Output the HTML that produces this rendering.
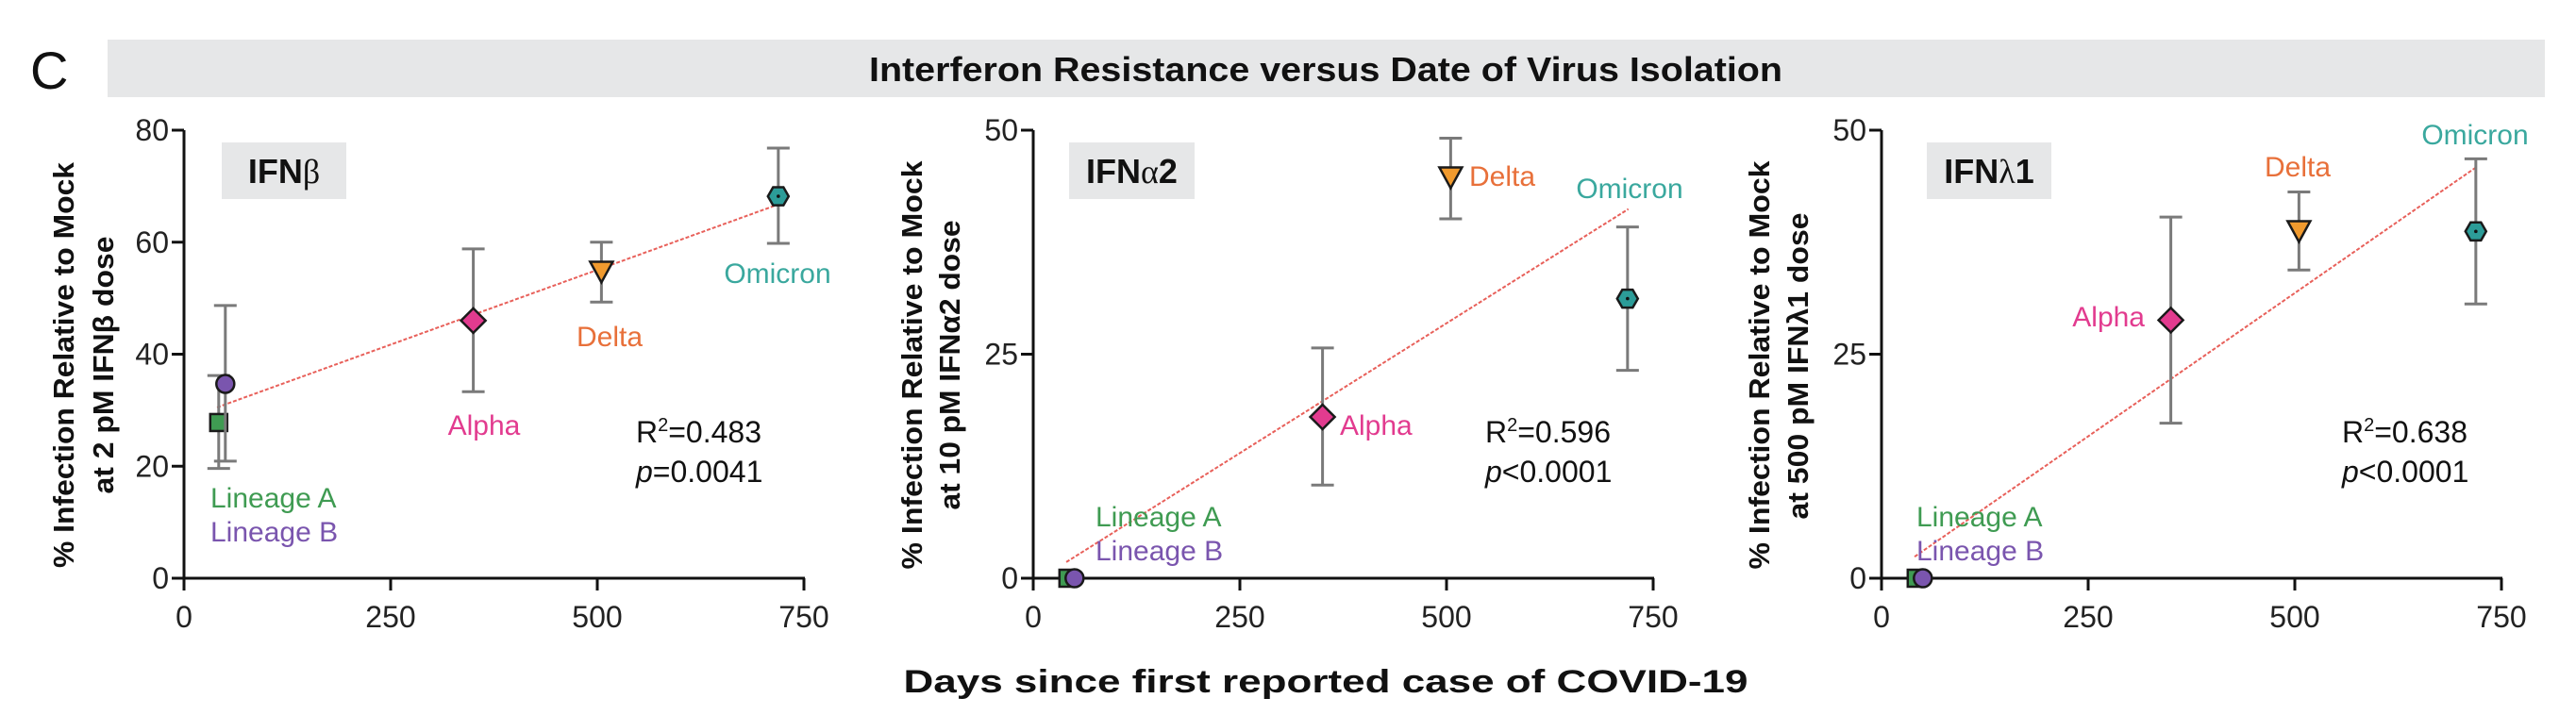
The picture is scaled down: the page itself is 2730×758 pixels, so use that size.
<!DOCTYPE html>
<html><head><meta charset="utf-8">
<style>
html,body{margin:0;padding:0;background:#fff;}
svg{display:block;font-family:"Liberation Sans",Arial,sans-serif;}
</style></head>
<body>
<svg id="fig" width="2730" height="758" viewBox="0 0 2730 758" xmlns="http://www.w3.org/2000/svg">
  <text x="32" y="94" font-size="56" fill="#111">C</text>
  <rect x="114" y="42" width="2583" height="61" fill="#e6e7e8"/>
  <text x="1405" y="86" font-size="36" font-weight="bold" text-anchor="middle" textLength="968" lengthAdjust="spacingAndGlyphs" fill="#111">Interferon Resistance versus Date of Virus Isolation</text>
  <text x="1405" y="734" font-size="34" font-weight="bold" text-anchor="middle" textLength="895" lengthAdjust="spacingAndGlyphs" fill="#111">Days since first reported case of COVID-19</text>
  <g id="panels"></g>
</svg>
<script>
// shared data
const variants = ["Lineage A","Lineage B","Alpha","Delta","Omicron"];
const days = [42, 50, 350, 505, 719];
const xTicks = [0, 250, 500, 750];

// IFN-beta panel
const betaMean = [27.8, 34.7, 46.0, 55.0, 68.2];
const betaErrLow = [19.6, 20.9, 33.3, 49.3, 59.8];
const betaErrHigh = [36.2, 48.7, 58.8, 60.0, 76.8];
const betaFit = [30.5, 66.8];
const betaYTicks = [0, 20, 40, 60, 80];

// IFN-alpha2 panel
const alphaMean = [0, 0, 18.0, 44.9, 31.2];
const alphaErrLow = [0, 0, 10.4, 40.1, 23.2];
const alphaErrHigh = [0, 0, 25.7, 49.1, 39.2];
const alphaFit = [1.8, 41.2];
const alphaYTicks = [0, 25, 50];

// IFN-lambda1 panel
const lambdaMean = [0, 0, 28.8, 38.9, 38.7];
const lambdaErrLow = [0, 0, 17.3, 34.4, 30.6];
const lambdaErrHigh = [0, 0, 40.3, 43.1, 46.8];
const lambdaFit = [2.4, 45.9];
const lambdaYTicks = [0, 25, 50];

const fitDays = [40, 720];
const stats = [["0.483","=0.0041"],["0.596","<0.0001"],["0.638","<0.0001"]];

const NS = "http://www.w3.org/2000/svg";
const markerFill = ["#3f9b52","#7a55ae","#e23b8f","#f09a2e","#2c9c98"];
const labelColor = ["#3f9b52","#7a55ae","#e23b8f","#e8703a","#3aa89e"];

function mk(tag, attrs, parent){
  const e = document.createElementNS(NS, tag);
  for (const k in attrs) e.setAttribute(k, attrs[k]);
  parent.appendChild(e);
  return e;
}

const panelsSpec = [
  {x0:195, yMax:80, ticks:betaYTicks, mean:betaMean, lo:betaErrLow, hi:betaErrHigh, fit:betaFit,
   name:"ifn-beta", label:"IFN", greek:"β", suffix:"", box:[235,151,132,60],
   yt:["% Infection Relative to Mock","at 2 pM IFNβ dose"], ytx:[67,109], ytl:[430,273], ytc:[387,387],
   labels:[[223,527,"start"],[223,563,"start"],[513,450,"middle"],[646,356,"middle"],[824,289,"middle"]],
   statPos:[674,458]},
  {x0:1095, yMax:50, ticks:alphaYTicks, mean:alphaMean, lo:alphaErrLow, hi:alphaErrHigh, fit:alphaFit,
   name:"ifn-alpha2", label:"IFN", greek:"α", suffix:"2", box:[1133,151,133,60],
   yt:["% Infection Relative to Mock","at 10 pM IFNα2 dose"], ytx:[966,1006], ytl:[433,307], ytc:[387,387],
   labels:[[1161,547,"start"],[1161,583,"start"],[1420,450,"start"],[1557,186,"start"],[1727,199,"middle"]],
   statPos:[1574,458]},
  {x0:1994, yMax:50, ticks:lambdaYTicks, mean:lambdaMean, lo:lambdaErrLow, hi:lambdaErrHigh, fit:lambdaFit,
   name:"ifn-lambda1", label:"IFN", greek:"λ", suffix:"1", box:[2042,151,132,60],
   yt:["% Infection Relative to Mock","at 500 pM IFNλ1 dose"], ytx:[1864,1905], ytl:[433,325], ytc:[387,388],
   labels:[[2031,547,"start"],[2031,583,"start"],[2273,335,"end"],[2435,176,"middle"],[2623,142,"middle"]],
   statPos:[2482,458]}
];

const yTop = 138, yBot = 613, W = 657;
const root = document.getElementById("panels");

panelsSpec.forEach((p, pi) => {
  const g = mk("g", {}, root);
  
  
  const xs = d => p.x0 + d / 750 * W;
  const ys = v => yBot - v / p.yMax * (yBot - yTop);

  const bx = mk("rect", {x:p.box[0], y:p.box[1], width:p.box[2], height:p.box[3], fill:"#e6e7e8"}, g);
  
  
  const bt = mk("text", {x:p.box[0]+p.box[2]/2, y:p.box[1]+43, "font-size":36, "font-weight":"bold", "text-anchor":"middle", fill:"#111"}, g);
  
  
  bt.appendChild(document.createTextNode(p.label));
  const gs = mk("tspan", {"font-family":"'Liberation Serif',serif", "font-weight":"normal"}, bt);
  gs.textContent = p.greek;
  if (p.suffix) { const s2 = mk("tspan", {}, bt); s2.textContent = p.suffix; }

  p.yt.forEach((t, i) => {
    const yc = p.ytc[i];
    const tt = mk("text", {x:p.ytx[i], y:yc, "font-size":31, "font-weight":"bold", "text-anchor":"middle", fill:"#111",
      transform:`rotate(-90 ${p.ytx[i]} ${yc})`, dy:"11", textLength:p.ytl[i], lengthAdjust:"spacingAndGlyphs"}, g);
    
    
    tt.textContent = t;
  });

  const ya = mk("line", {x1:p.x0, y1:yTop, x2:p.x0, y2:yBot+2, stroke:"#111", "stroke-width":3}, g);
  
  
  const xa = mk("line", {x1:p.x0-1, y1:yBot, x2:p.x0+W+1, y2:yBot, stroke:"#111", "stroke-width":3}, g);
  
  

  p.ticks.forEach(v => {
    const l = mk("line", {x1:p.x0-13, y1:ys(v), x2:p.x0, y2:ys(v), stroke:"#111", "stroke-width":3}, g);
    
    
    const t = mk("text", {x:p.x0-16, y:ys(v)+11, "font-size":32, "text-anchor":"end", fill:"#222"}, g);
    
    
    t.textContent = v;
  });
  xTicks.forEach(v => {
    const l = mk("line", {x1:xs(v), y1:yBot, x2:xs(v), y2:yBot+13, stroke:"#111", "stroke-width":3}, g);
    
    
    const t = mk("text", {x:xs(v), y:yBot+52, "font-size":32, "text-anchor":"middle", fill:"#222"}, g);
    
    
    t.textContent = v;
  });

  const fl = mk("line", {x1:xs(fitDays[0]), y1:ys(p.fit[0]), x2:xs(fitDays[1]), y2:ys(p.fit[1]), stroke:"#e8605a", "stroke-width":2, "stroke-dasharray":"4 2"}, g);
  
  

  days.forEach((d, i) => {
    const cx = xs(d), cy = ys(p.mean[i]);
    if (p.hi[i] > p.lo[i]) {
      const eg = mk("g", {stroke:"#7a7a7a", "stroke-width":3}, g);
      
      
      mk("line", {x1:cx, y1:ys(p.lo[i]), x2:cx, y2:ys(p.hi[i])}, eg);
      mk("line", {x1:cx-12, y1:ys(p.lo[i]), x2:cx+12, y2:ys(p.lo[i])}, eg);
      mk("line", {x1:cx-12, y1:ys(p.hi[i]), x2:cx+12, y2:ys(p.hi[i])}, eg);
    }
    const st = {fill:markerFill[i], stroke:"#1a1a1a", "stroke-width":2.5};
    let m;
    if (i === 0) m = mk("rect", Object.assign({x:cx-9, y:cy-9, width:18, height:18}, st), g);
    else if (i === 1) m = mk("circle", Object.assign({cx:cx, cy:cy, r:9.5}, st), g);
    else if (i === 2) m = mk("polygon", Object.assign({points:`${cx},${cy-13} ${cx+13},${cy} ${cx},${cy+13} ${cx-13},${cy}`}, st), g);
    else if (i === 3) m = mk("polygon", Object.assign({points:`${cx-12},${cy-9} ${cx+12},${cy-9} ${cx},${cy+13}`}, st), g);
    else {
      const r = 11, pts = [];
      for (let k = 0; k < 6; k++) { const a = Math.PI/3*k; pts.push((cx + r*Math.cos(a)).toFixed(1) + "," + (cy + r*Math.sin(a)).toFixed(1)); }
      m = mk("polygon", Object.assign({points:pts.join(" ")}, st), g);
      mk("circle", {cx:cx, cy:cy, r:1.8, fill:"#111"}, g);
    }
    
    

    const lp = p.labels[i];
    const lt = mk("text", {x:lp[0], y:lp[1]+11, "font-size":30, "text-anchor":lp[2], fill:labelColor[i]}, g);
    
    
    lt.textContent = variants[i];
  });

  const s1 = mk("text", {x:p.statPos[0], y:p.statPos[1]+11, "font-size":32, fill:"#111"}, g);
  
  
  s1.appendChild(document.createTextNode("R"));
  const sup = mk("tspan", {"font-size":20, dy:"-12"}, s1); sup.textContent = "2";
  const rest = mk("tspan", {dy:"12"}, s1); rest.textContent = "=" + stats[pi][0];
  const s2 = mk("text", {x:p.statPos[0], y:p.statPos[1]+53, "font-size":32, fill:"#111"}, g);
  
  
  const pi2 = mk("tspan", {"font-style":"italic"}, s2); pi2.textContent = "p";
  s2.appendChild(document.createTextNode(stats[pi][1]));
});
</script>
</body></html>
